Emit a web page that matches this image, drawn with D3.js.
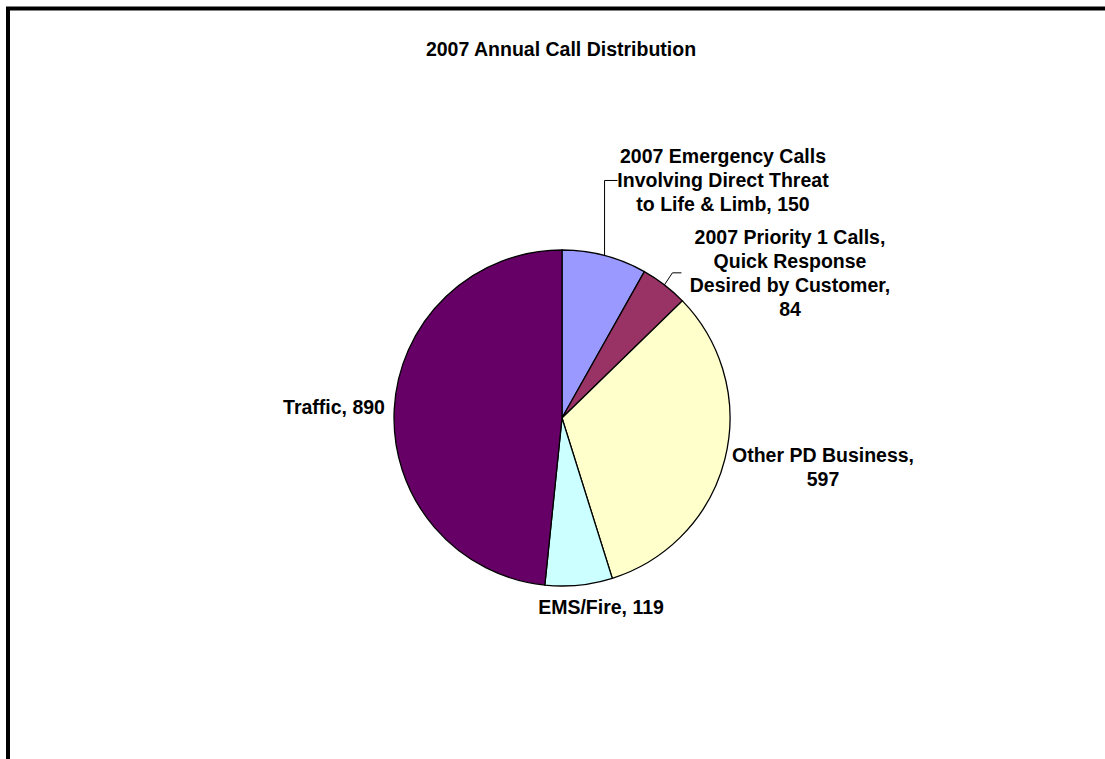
<!DOCTYPE html>
<html>
<head>
<meta charset="utf-8">
<script src="https://cdn.jsdelivr.net/npm/d3@7"></script>
<style>
  html, body { margin: 0; padding: 0; background: #fff; }
  text { font-family: "Liberation Sans", Arial, sans-serif; font-weight: bold; fill: #000; }
</style>
</head>
<body>
<div id="chart"></div>
<script>
// data
var categories = ["2007 Emergency Calls Involving Direct Threat to Life & Limb", "2007 Priority 1 Calls, Quick Response Desired by Customer", "Other PD Business", "EMS/Fire", "Traffic"];
var values = [150, 84, 597, 119, 890];
var colors = ["#9999FF", "#993366", "#FFFFCC", "#CCFFFF", "#660066"];
var labelLines = [
  ["2007 Emergency Calls", "Involving Direct Threat", "to Life & Limb, 150"],
  ["2007 Priority 1 Calls,", "Quick Response", "Desired by Customer,", "84"],
  ["Other PD Business,", "597"],
  ["EMS/Fire, 119"],
  ["Traffic, 890"]
];
var title = "2007 Annual Call Distribution";

// layout
var width = 1105, height = 759;
var cx = 562, cy = 418, radius = 168;
var fontSize = 19.5, lineHeight = 24;
// label anchor (center x, first baseline y) and leader bend offsets
var labelPos = [
  {x: 723, y: 163, leader: [[0, -75], [13, -75]]},
  {x: 790, y: 244, leader: [[8, -12], [17, -12]]},
  {x: 823, y: 462},
  {x: 601, y: 614},
  {x: 334, y: 414}
];

var svg = d3.select("#chart").append("svg").attr("width", width).attr("height", height);

// outer frame (runs off the right/bottom)
svg.append("rect").attr("x", 8).attr("y", 8.5).attr("width", 1200).attr("height", 900)
  .attr("fill", "none").attr("stroke", "#000").attr("stroke-width", 4);

svg.append("text").attr("x", 561).attr("y", 56).attr("text-anchor", "middle")
  .style("font-size", fontSize + "px").text(title);

var pie = d3.pie().sort(null).value(function(d) { return d; });
var arcs = pie(values);
var arc = d3.arc().innerRadius(0).outerRadius(radius);

var g = svg.append("g").attr("transform", "translate(" + cx + "," + cy + ")");
g.selectAll("path").data(arcs).enter().append("path")
  .attr("d", arc)
  .attr("fill", function(d, i) { return colors[i]; })
  .attr("stroke", "#000").attr("stroke-width", 1.3);

// leader lines from the slice edge
arcs.forEach(function(d, i) {
  var lp = labelPos[i];
  if (!lp.leader) return;
  var a = (d.startAngle + d.endAngle) / 2;
  var x0 = cx + radius * Math.sin(a), y0 = cy - radius * Math.cos(a);
  var pts = [[x0, y0]].concat(lp.leader.map(function(p) { return [x0 + p[0], y0 + p[1]]; }));
  svg.append("path").attr("d", d3.line()(pts)).attr("fill", "none").attr("stroke", "#000").attr("stroke-width", 1);
});

// labels
labelLines.forEach(function(lines, i) {
  var t = svg.append("text").attr("text-anchor", "middle").style("font-size", fontSize + "px");
  lines.forEach(function(s, j) {
    t.append("tspan").attr("x", labelPos[i].x).attr("y", labelPos[i].y + j * lineHeight).text(s);
  });
});
</script>
</body>
</html>
